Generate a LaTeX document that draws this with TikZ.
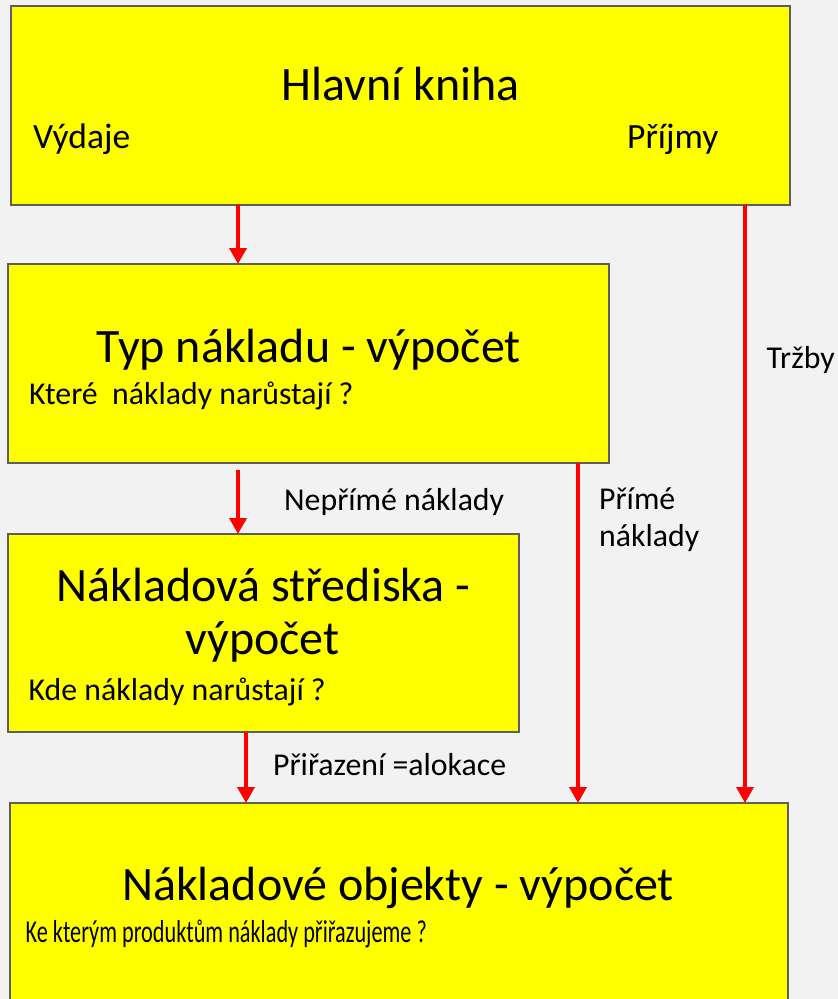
\documentclass[tikz,border=0pt]{standalone}
\usepackage{fontspec}
\usepackage{graphicx}
\setmainfont{Carlito}
\usetikzlibrary{arrows.meta}
\definecolor{bg}{HTML}{F2F2F2}
\definecolor{boxyellow}{HTML}{FFFF00}
\definecolor{boxline}{HTML}{5E5E5E}
\definecolor{arrred}{HTML}{FF0000}
\begin{document}
\begin{tikzpicture}[x=1pt,y=-1pt,
  box/.style={draw=boxline, line width=2.2pt, fill=boxyellow, inner sep=0pt, outer sep=0pt},
  big/.style={font=\fontsize{48}{55}\selectfont, inner sep=0pt, anchor=base},
  mid/.style={font=\fontsize{35.5}{42}\selectfont, inner sep=0pt, anchor=base west},
  small/.style={font=\fontsize{31.8}{37}\selectfont, inner sep=0pt, anchor=base west},
  arr/.style={draw=arrred, line width=3.6pt, -{Triangle[width=17pt,length=16pt]}}]
\useasboundingbox (0,0) rectangle (838,999);
\clip (0,0) rectangle (838,999);
\fill[bg] (0,0) rectangle (838,999);

% boxes
\node[box, minimum width=779pt, minimum height=199pt] (b1) at (400.5,105.5) {};
\node[box, minimum width=601pt, minimum height=199pt] (b2) at (308.5,363.5) {};
\node[box, minimum width=511pt, minimum height=198pt] (b3) at (263.5,633) {};
\node[box, minimum width=778pt, minimum height=220pt] (b4) at (399,913) {};

% texts
\node[big] (t1) at (400.5,100) {Hlavní kniha};
\node[mid] (t1a) at (33,148) {Výdaje};
\node[mid] (t1b) at (627,148) {Příjmy};
\node[big] (t2) at (309,362) {Typ nákladu - výpočet};
\node[small] (t2a) at (29,404) {Které\ \ náklady narůstají ?};
\node[big] (t3) at (263.5,601) {Nákladová střediska -};
\node[big] (t3b) at (262.5,654) {výpočet};
\node[small] (t3a) at (28.5,700) {Kde náklady narůstají ?};
\node[big] (t4) at (398,900) {Nákladové objekty - výpočet};
\node[small] (t4a) at (25.5,942) {\scalebox{0.7}[1]{Ke kterým produktům náklady přiřazujeme ?}};

% labels
\node[small] (l1) at (284,510.5) {Nepřímé náklady};
\node[small] (l2) at (599,509.5) {Přímé};
\node[small] (l2b) at (599,546.5) {náklady};
\node[small] (l3) at (766.5,368) {Tržby};
\node[small] (l4) at (273,775) {Přiřazení =alokace};

% connector x positions
\coordinate (xa) at (238,0);
\coordinate (xb) at (246,0);
\coordinate (xc) at (578,0);
\coordinate (xd) at (745,0);
\coordinate (s2) at (238,470);

\draw[arr] (b1.south -| xa) -- (b2.north -| xa);
\draw[arr] (s2) -- (b3.north -| xa);
\draw[arr] (b3.south -| xb) -- (b4.north -| xb);
\draw[arr] (b2.south -| xc) -- (b4.north -| xc);
\draw[arr] (b1.south -| xd) -- (b4.north -| xd);
\end{tikzpicture}
\end{document}
